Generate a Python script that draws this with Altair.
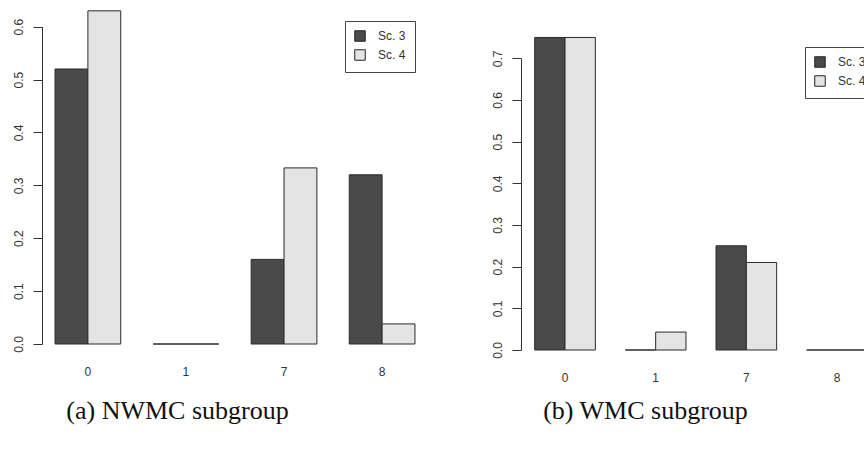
import altair as alt
import pandas as pd

categories = ["0", "1", "7", "8"]
series = ["Sc. 3", "Sc. 4"]
nwmc_sc3 = [0.52, 0.0, 0.16, 0.32]
nwmc_sc4 = [0.63, 0.0, 0.333, 0.038]
wmc_sc3 = [0.75, 0.0, 0.25, 0.0]
wmc_sc4 = [0.75, 0.043, 0.21, 0.0]
nwmc_ticks = [0.0, 0.1, 0.2, 0.3, 0.4, 0.5, 0.6]
wmc_ticks = [0.0, 0.1, 0.2, 0.3, 0.4, 0.5, 0.6, 0.7]
colors = ["#4a4a4a", "#e4e4e4"]


def make_df(a, b):
    rows = []
    for c, v in zip(categories, a):
        rows.append({"cat": c, "series": series[0], "value": v})
    for c, v in zip(categories, b):
        rows.append({"cat": c, "series": series[1], "value": v})
    return pd.DataFrame(rows)


def panel(df, xrange, pin, pout, ydomain, yrange, ticks, yoff, xoff,
          lx, ly, caption, capx, capy):
    return alt.Chart(df).mark_bar(stroke="#2a2a2a", strokeWidth=1).encode(
        x=alt.X("cat:N", sort=categories,
                scale=alt.Scale(range=xrange, paddingInner=pin, paddingOuter=pout),
                axis=alt.Axis(orient="bottom", offset=xoff, domain=False, ticks=False,
                              labelAngle=0, labelPadding=22, labelFontSize=12,
                              labelFont="Liberation Sans", labelColor="#333",
                              title=caption, titleFont="Liberation Serif",
                              titleFontSize=26, titleFontWeight="normal",
                              titleColor="#111", titleX=capx, titleY=capy,
                              titleAlign="center", titleBaseline="alphabetic")),
        xOffset=alt.XOffset("series:N", sort=series,
                            scale=alt.Scale(paddingInner=0, paddingOuter=0)),
        y=alt.Y("value:Q",
                scale=alt.Scale(domain=ydomain, range=yrange, nice=False, zero=True),
                axis=alt.Axis(orient="left", offset=yoff, values=ticks, format=".1f",
                              grid=False, labelAngle=270, labelPadding=8,
                              tickSize=9, tickColor="#333", domainColor="#333",
                              labelFontSize=12, labelFont="Liberation Sans",
                              labelColor="#333", title=None)),
        color=alt.Color("series:N", sort=series,
                        scale=alt.Scale(domain=series, range=colors),
                        legend=alt.Legend(orient="none", legendX=lx, legendY=ly,
                                          title=None, symbolType="square",
                                          symbolSize=110, symbolStrokeColor="#222",
                                          symbolStrokeWidth=1, labelFontSize=12,
                                          labelFont="Liberation Sans", labelColor="#333",
                                          strokeColor="#444", fillColor="white",
                                          padding=9, rowPadding=3, labelOffset=12)),
    )


left = panel(make_df(nwmc_sc3, nwmc_sc4), [42, 428], 0.33, 0.133,
             [0, 0.6], [344, 26.7], nwmc_ticks, -42, -114,
             345, 21, "(a) NWMC subgroup", 177, 74)
right = panel(make_df(wmc_sc3, wmc_sc4), [521, 881], 0.331, 0.151,
              [0, 0.7], [350, 58.3], wmc_ticks, -521, -108,
              805, 47, "(b) WMC subgroup", 645, 68)

chart = alt.layer(left, right).resolve_scale(
    x="independent", y="independent", xOffset="independent", color="independent"
).resolve_axis(x="independent", y="independent").resolve_legend(
    color="independent"
).properties(
    width=864, height=458, padding=0,
    autosize=alt.AutoSizeParams(type="none"),
    background="white",
).configure_view(stroke=None)

chart.save("out.html", embed_options={"renderer": "svg", "actions": False})
